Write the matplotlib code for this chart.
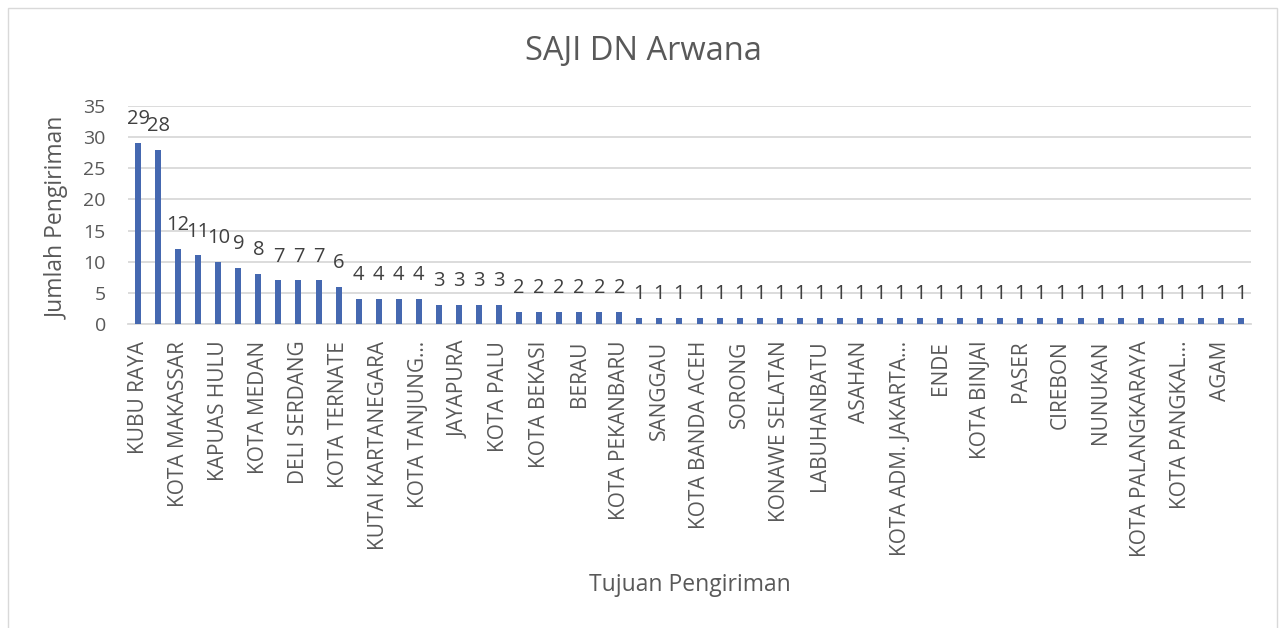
import matplotlib.pyplot as plt
from matplotlib.patches import Rectangle

plt.rcParams['font.family'] = ['Open Sans', 'DejaVu Sans']

# every other category name is shown on the axis (Excel skips labels)
shown_labels = ['KUBU RAYA', 'KOTA MAKASSAR', 'KAPUAS HULU', 'KOTA MEDAN',
                'DELI SERDANG', 'KOTA TERNATE', 'KUTAI KARTANEGARA', 'KOTA TANJUNG…',
                'JAYAPURA', 'KOTA PALU', 'KOTA BEKASI', 'BERAU', 'KOTA PEKANBARU',
                'SANGGAU', 'KOTA BANDA ACEH', 'SORONG', 'KONAWE SELATAN', 'LABUHANBATU',
                'ASAHAN', 'KOTA ADM. JAKARTA…', 'ENDE', 'KOTA BINJAI', 'PASER',
                'CIREBON', 'NUNUKAN', 'KOTA PALANGKARAYA', 'KOTA PANGKAL…', 'AGAM']
jumlah = [29, 28, 12, 11, 10, 9, 8, 7, 7, 7, 6,
          4, 4, 4, 4, 3, 3, 3, 3,
          2, 2, 2, 2, 2, 2] + [1] * 31
yticks = [0, 5, 10, 15, 20, 25, 30, 35]

txt = '#595959'
fig = plt.figure(figsize=(12.85, 6.28), dpi=100)
ax = fig.add_axes([128/1285, 1 - 324/628, (1251-128)/1285, (324-106)/628])

x = list(range(len(jumlah)))
ax.bar(x, jumlah, width=0.3, color='#4568B0', zorder=3)
for xi, v in zip(x, jumlah):
    ax.annotate(str(v), (xi, v), xytext=(0, 10), textcoords='offset points',
                ha='center', va='bottom', fontsize=14.5, color='#404040')

ax.set_xlim(-0.5, len(jumlah) - 0.5)
ax.set_ylim(0, 35)
ax.set_yticks(yticks)
ax.set_xticks(x[::2])
ax.set_xticklabels(shown_labels, rotation=90, fontsize=15, color=txt)
ax.tick_params(axis='y', labelsize=14, labelcolor=txt, length=0, pad=16)
ax.tick_params(axis='x', length=0, pad=12)
ax.grid(axis='y', color='#d9d9d9', linewidth=1.3, zorder=0)
for s in ['top', 'right', 'left']:
    ax.spines[s].set_visible(False)
ax.spines['bottom'].set_color('#d9d9d9')
ax.spines['bottom'].set_linewidth(1.3)

fig.text(58/1285, 1 - 218/628, 'Jumlah Pengiriman', rotation=90, ha='center',
         va='center', fontsize=16.5, color=txt)
fig.text(690/1285, 1 - 585/628, 'Tujuan Pengiriman', ha='center', va='center',
         fontsize=16.5, color=txt)
fig.text(643/1285, 1 - 52/628, 'SAJI DN Arwana', ha='center', va='center',
         fontsize=23.5, color=txt)

fig.patches.append(Rectangle((8/1285, -0.05), 1269/1285, 1.05 - 8/628,
                             transform=fig.transFigure, fill=False,
                             edgecolor='#d9d9d9', linewidth=1))

fig.savefig('out.png', dpi=100)
